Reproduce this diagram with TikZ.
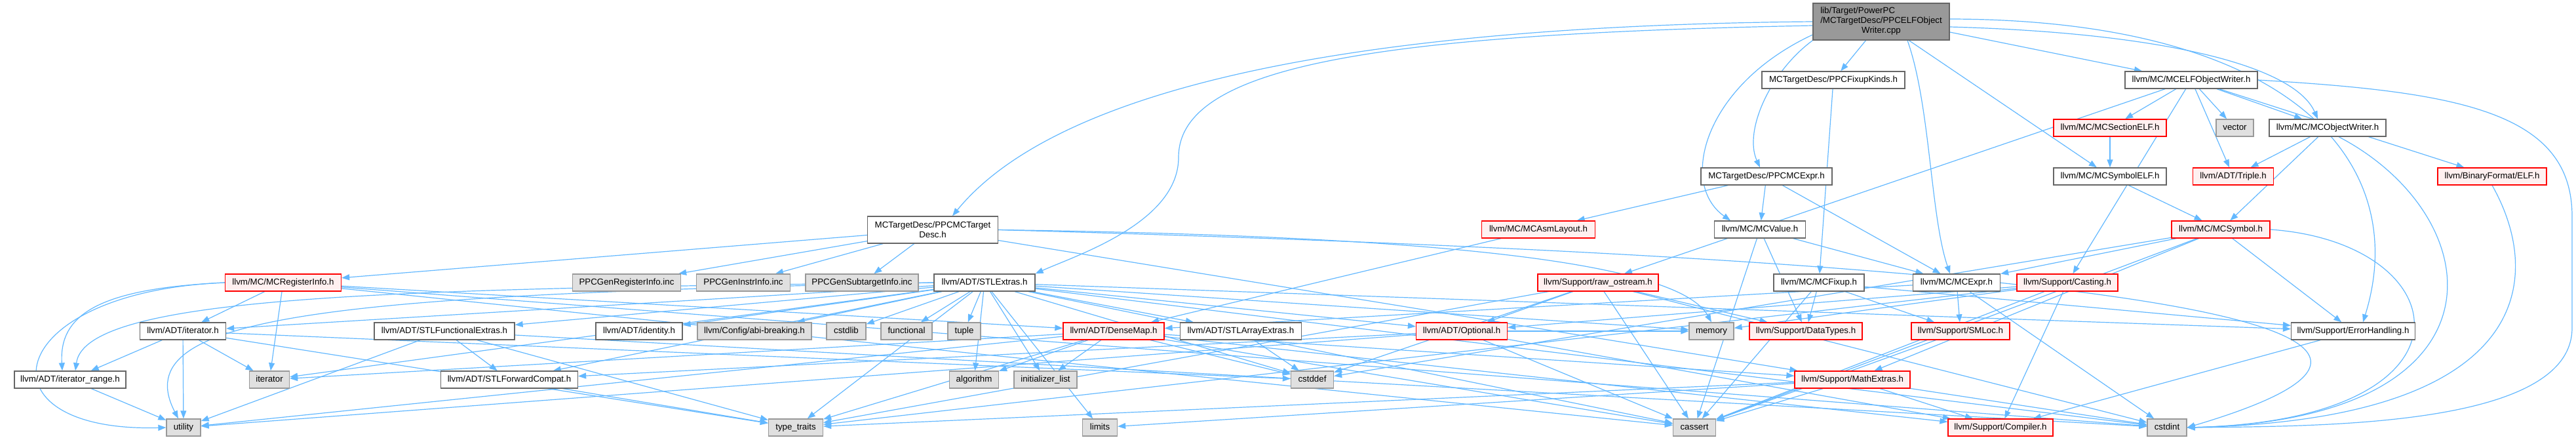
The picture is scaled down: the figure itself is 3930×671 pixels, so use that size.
\documentclass[tikz,border=0pt]{standalone}
\usepackage{fontspec}
\setmainfont{Liberation Sans}
\usetikzlibrary{arrows.meta,backgrounds}

\definecolor{depblue}{HTML}{63B8FF}
\definecolor{hdrline}{HTML}{666666}
\definecolor{sysline}{HTML}{999999}
\definecolor{sysfill}{HTML}{E0E0E0}
\definecolor{cutfill}{HTML}{FFF0F0}
\definecolor{rootfill}{HTML}{999999}

\begin{document}
\begin{tikzpicture}[
  x=1pt, y=-1pt,
  font=\fontsize{13.3}{15}\selectfont,
  box/.style  = {rectangle, inner sep=0pt, minimum height=26, line width=1.3pt},
  hdr/.style  = {box, draw=hdrline, fill=white, text height=10pt, text depth=3pt},
  sys/.style  = {box, draw=sysline, fill=sysfill, text height=10pt, text depth=3pt},
  cut/.style  = {box, draw=red, fill=cutfill, text height=10pt, text depth=3pt},
  root/.style = {box, draw=hdrline, fill=rootfill, minimum height=56},
  dep/.style  = {-{Triangle[length=12pt,width=9pt]}, draw=depblue, line width=1.2pt},
]

\useasboundingbox (0,0) rectangle (3930,671);

%% ==== rank 0: the source file ============================================
\node[root, minimum width=208] (src) at (2870,33)
  {\begin{tabular}{@{}l@{}}lib/Target/PowerPC\\/MCTargetDesc/PPCELFObject\\
   \multicolumn{1}{@{}c@{}}{Writer.cpp}\end{tabular}};

%% ==== rank 1 ==============================================================
\node[hdr, minimum width=218] (fixk)    at (2797,122) {MCTargetDesc/PPCFixupKinds.h};
\node[hdr, minimum width=202] (mcelfow) at (3343,122) {llvm/MC/MCELFObjectWriter.h};

%% ==== rank 2 ==============================================================
\node[cut, minimum width=172] (secelf) at (3219,195)   {llvm/MC/MCSectionELF.h};
\node[sys, minimum width=57]  (vector) at (3409.5,195) {vector};
\node[hdr, minimum width=178] (objw)   at (3551,195)   {llvm/MC/MCObjectWriter.h};

%% ==== rank 3 ==============================================================
\node[hdr, minimum width=200] (ppcexpr) at (2695,269) {MCTargetDesc/PPCMCExpr.h};
\node[hdr, minimum width=172] (symelf)  at (3219,269) {llvm/MC/MCSymbolELF.h};
\node[cut, minimum width=123] (triple)  at (3407,269) {llvm/ADT/Triple.h};
\node[cut, minimum width=166] (elfh)    at (3802,269) {llvm/BinaryFormat/ELF.h};

%% ==== rank 4 ==============================================================
\node[box, draw=hdrline, fill=white, align=center, minimum width=199,
  minimum height=41] (tdesc) at (1423,350.5) {MCTargetDesc/PPCMCTarget\\Desc.h};
\node[cut, minimum width=173] (asmlay) at (2347,350) {llvm/MC/MCAsmLayout.h};
\node[hdr, minimum width=139] (mcval)  at (2685,350) {llvm/MC/MCValue.h};
\node[cut, minimum width=150] (mcsym)  at (3388,350) {llvm/MC/MCSymbol.h};

%% ==== rank 5 ==============================================================
\node[cut, minimum width=177] (reginfo)  at (432,431)  {llvm/MC/MCRegisterInfo.h};
\node[sys, minimum width=165] (genreg)   at (956,431)  {PPCGenRegisterInfo.inc};
\node[sys, minimum width=143] (geninstr) at (1134,431) {PPCGenInstrInfo.inc};
\node[sys, minimum width=172] (gensub)   at (1315,431) {PPCGenSubtargetInfo.inc};
\node[hdr, minimum width=154] (stlx)     at (1502,431) {llvm/ADT/STLExtras.h};
\node[cut, minimum width=184] (rawos)    at (2438,431) {llvm/Support/raw\_ostream.h};
\node[hdr, minimum width=138] (mcfix)    at (2775,431) {llvm/MC/MCFixup.h};
\node[hdr, minimum width=133] (mcexpr)   at (2985,431) {llvm/MC/MCExpr.h};
\node[cut, minimum width=154] (casting)  at (3154,431) {llvm/Support/Casting.h};

%% ==== rank 6 ==============================================================
\node[hdr, minimum width=131] (iterh)      at (279,505)  {llvm/ADT/iterator.h};
\node[hdr, minimum width=214] (stlfunc)    at (678,505)  {llvm/ADT/STLFunctionalExtras.h};
\node[hdr, minimum width=132] (ident)      at (975,505)  {llvm/ADT/identity.h};
\node[sys, minimum width=174] (abi)        at (1151,505) {llvm/Config/abi-breaking.h};
\node[sys, minimum width=60]  (cstdlib)    at (1291,505) {cstdlib};
\node[sys, minimum width=78]  (functional) at (1383,505) {functional};
\node[sys, minimum width=50]  (tuple)      at (1471,505) {tuple};
\node[cut, minimum width=154] (densemap)   at (1699,505) {llvm/ADT/DenseMap.h};
\node[hdr, minimum width=185] (stlarr)     at (1893,505) {llvm/ADT/STLArrayExtras.h};
\node[cut, minimum width=139] (optional)   at (2230,505) {llvm/ADT/Optional.h};
\node[sys, minimum width=68]  (memory)     at (2611,505) {memory};
\node[cut, minimum width=172] (datatypes)  at (2755,505) {llvm/Support/DataTypes.h};
\node[cut, minimum width=150] (smloc)      at (2991,505) {llvm/Support/SMLoc.h};
\node[hdr, minimum width=189] (errh)       at (3590,505) {llvm/Support/ErrorHandling.h};

%% ==== rank 7 ==============================================================
\node[hdr, minimum width=170] (iterrange) at (107,579)  {llvm/ADT/iterator\_range.h};
\node[sys, minimum width=61]  (iterator)  at (411,579)  {iterator};
\node[hdr, minimum width=209] (stlfwd)    at (777,579)  {llvm/ADT/STLForwardCompat.h};
\node[sys, minimum width=75]  (algorithm) at (1486,579) {algorithm};
\node[sys, minimum width=96]  (initlist)  at (1595,579) {initializer\_list};
\node[sys, minimum width=65]  (cstddef)   at (2002,579) {cstddef};
\node[cut, minimum width=176] (mathx)     at (2826,579) {llvm/Support/MathExtras.h};

%% ==== rank 8 ==============================================================
\node[sys, minimum width=52]  (utility)    at (280,652)  {utility};
\node[sys, minimum width=83]  (typetraits) at (1214,652) {type\_traits};
\node[sys, minimum width=53]  (limits)     at (1678,652) {limits};
\node[sys, minimum width=65]  (cassert)    at (2585,652) {cassert};
\node[cut, minimum width=160] (compiler)   at (3052,652) {llvm/Support/Compiler.h};
\node[sys, minimum width=60]  (cstdint)    at (3306,652) {cstdint};

\begin{scope}[on background layer]
%% ==== includes of the source file =========================================
\draw[dep] (src) -- (fixk);
\draw[dep] (src.south west) .. controls (2700,110) and (2660,200) .. ([xshift=-10]ppcexpr.north);
\draw[dep] (src.west) .. controls (2000,40) and (1600,150) .. ([xshift=30]tdesc.north);
\draw[dep] ([yshift=-6]src.west) .. controls (2100,52) and (1798,100) .. (1798,240)
  .. controls (1798,340) and (1640,390) .. (stlx.north east);
\draw[dep] ([yshift=-16]src.east) -- ([xshift=-75]mcelfow.north);
\draw[dep] ([xshift=40]src.south) .. controls (2945,160) and (2945,330) .. ([xshift=-10]mcexpr.north);
\draw[dep] ([yshift=-8]src.east) .. controls (3300,50) and (3500,100) .. ([xshift=-15]objw.north);
\draw[dep] (src) -- (symelf);
\draw[dep] ([yshift=-20]src.west) .. controls (2600,130) and (2560,280) .. ([xshift=-45]mcval.north);
\draw[dep] ([yshift=4]src.east) .. controls (3500,30) and (3680,250) .. ([xshift=15]errh.north);

%% ==== target description headers =========================================
\draw[dep] (fixk) -- (mcfix);
\draw[dep] (ppcexpr) -- (asmlay);
\draw[dep] (ppcexpr) -- (mcexpr);
\draw[dep] (ppcexpr) -- (mcval);
\draw[dep] (tdesc) -- (reginfo);
\draw[dep] (tdesc) -- (genreg);
\draw[dep] (tdesc) -- (geninstr);
\draw[dep] (tdesc) -- (gensub);
\draw[dep] (tdesc.east) .. controls (2200,360) and (2560,400) .. (memory.north);
\draw[dep] (tdesc) -- (mathx);
\draw[dep] (tdesc.east) .. controls (3300,400) and (3850,500) .. (cstdint.east);

%% ==== ELF object writer ===================================================
\draw[dep] (mcelfow) -- (triple);
\draw[dep] (mcelfow) -- (elfh);
\draw[dep] (mcelfow) -- (objw);
\draw[dep] (mcelfow) -- (secelf);
\draw[dep] (mcelfow) -- (casting);
\draw[dep] (mcelfow) -- (rawos);
\draw[dep] (mcelfow) -- (vector);
\draw[dep] (mcelfow.east) .. controls (3750,140) and (3924,170) .. (3924,330)
  -- (3924,500) .. controls (3924,650) and (3550,650) .. (cstdint.east);
\draw[dep] (secelf) -- (symelf);
\draw[dep] (symelf) -- (mcsym);
\draw[dep] (objw) -- (triple);
\draw[dep] (objw) -- (mcsym);
\draw[dep] ([xshift=17]objw.south) .. controls (3800,330) and (3840,640) .. (cstdint.east);
\draw[dep] (elfh.south) .. controls (3880,420) and (3870,640) .. (cstdint.east);

%% ==== MC layer ============================================================
\draw[dep] (mcsym) -- (mcexpr);
\draw[dep] (mcsym) -- (errh);
\draw[dep] (mcsym) -- (mathx);
\draw[dep] (mcsym) -- (cassert);
\draw[dep] (mcsym) -- (cstddef);
\draw[dep] (mcsym.east) .. controls (3750,370) and (3800,640) .. (cstdint.east);
\draw[dep] (mcval) -- (mcexpr);
\draw[dep] (mcval) -- (datatypes);
\draw[dep] (mcval) -- (cassert);
\draw[dep] (asmlay) -- (densemap);
\draw[dep] (mcexpr) -- (densemap);
\draw[dep] (mcexpr) -- (smloc);
\draw[dep] (mcexpr) -- (cstdint);
\draw[dep] (mcfix) -- (datatypes);
\draw[dep] (mcfix) -- (errh);
\draw[dep] (mcfix) -- (smloc);
\draw[dep] (mcfix) -- (cassert);

%% ==== Support headers =====================================================
\draw[dep] (casting) -- (compiler);
\draw[dep] (casting) -- (cassert);
\draw[dep] (casting) -- (memory);
\draw[dep] (casting) -- (optional);
\draw[dep] (casting) -- (typetraits);
\draw[dep] (rawos) -- (optional);
\draw[dep] (rawos) -- (datatypes);
\draw[dep] (rawos) -- (cassert);
\draw[dep] (rawos) -- (cstddef);
\draw[dep] (rawos) -- (cstdint);
\draw[dep] (rawos) -- (typetraits);
\draw[dep] (smloc) -- (cassert);
\draw[dep] (errh) -- (compiler);
\draw[dep] (mathx) -- (compiler);
\draw[dep] (mathx) -- (cassert);
\draw[dep] (mathx) -- (cstdint);
\draw[dep] (mathx) -- (limits);
\draw[dep] (mathx) -- (typetraits);

%% ==== register info =======================================================
\draw[dep] (reginfo) -- (densemap);
\draw[dep] (reginfo) -- (iterh);
\draw[dep] (reginfo.west) .. controls (150,440) and (90,480) .. ([xshift=-12]iterrange.north);
\draw[dep] (reginfo) -- (cassert);
\draw[dep] (reginfo) -- (cstdint);
\draw[dep] (reginfo) -- (iterator);
\draw[dep] (reginfo.west) .. controls (0,445) and (-40,660) .. (utility.west);

%% ==== STLExtras ===========================================================
\draw[dep] (stlx) -- (stlarr);
\draw[dep] (stlx) -- (stlfwd);
\draw[dep] (stlx) -- (stlfunc);
\draw[dep] (stlx) -- (ident);
\draw[dep] (stlx) -- (optional);
\draw[dep] (stlx) -- (iterh);
\draw[dep] (stlx.west) .. controls (600,440) and (130,450) .. ([xshift=8]iterrange.north);
\draw[dep] (stlx) -- (abi);
\draw[dep] (stlx) -- (errh);
\draw[dep] (stlx) -- (algorithm);
\draw[dep] (stlx) -- (cassert);
\draw[dep] (stlx) -- (cstddef);
\draw[dep] (stlx) -- (cstdint);
\draw[dep] (stlx) -- (cstdlib);
\draw[dep] (stlx) -- (functional);
\draw[dep] (stlx) -- (initlist);
\draw[dep] (stlx) -- (iterator);
\draw[dep] (stlx) -- (limits);
\draw[dep] (stlx) -- (memory);
\draw[dep] (stlx) -- (tuple);
\draw[dep] (stlx) -- (typetraits);
\draw[dep] (stlx.west) .. controls (500,450) and (190,480) .. ([xshift=-8]utility.north);

%% ==== ADT headers =========================================================
\draw[dep] (iterh) -- (iterrange);
\draw[dep] (iterh) -- (cstddef);
\draw[dep] (iterh) -- (iterator);
\draw[dep] (iterh) -- (typetraits);
\draw[dep] (iterh) -- (utility);
\draw[dep] (iterrange) -- (utility);
\draw[dep] (densemap) -- (compiler);
\draw[dep] (densemap) -- (mathx);
\draw[dep] (densemap) -- (algorithm);
\draw[dep] (densemap) -- (cassert);
\draw[dep] (densemap) -- (cstddef);
\draw[dep] (densemap) -- (initlist);
\draw[dep] (densemap) -- (iterator);
\draw[dep] (densemap) -- (typetraits);
\draw[dep] (densemap) -- (utility);
\draw[dep] (stlarr) -- (cstddef);
\draw[dep] (optional) -- (stlfwd);
\draw[dep] (optional) -- (compiler);
\draw[dep] (optional) -- (cassert);
\draw[dep] (optional) -- (memory);
\draw[dep] (optional) -- (utility);
\draw[dep] (stlfwd) -- (typetraits);
\draw[dep] (stlfunc) -- (stlfwd);
\draw[dep] (stlfunc) -- (cstdint);
\draw[dep] (stlfunc) -- (typetraits);
\draw[dep] (stlfunc) -- (utility);
\end{scope}

\end{tikzpicture}
\end{document}
